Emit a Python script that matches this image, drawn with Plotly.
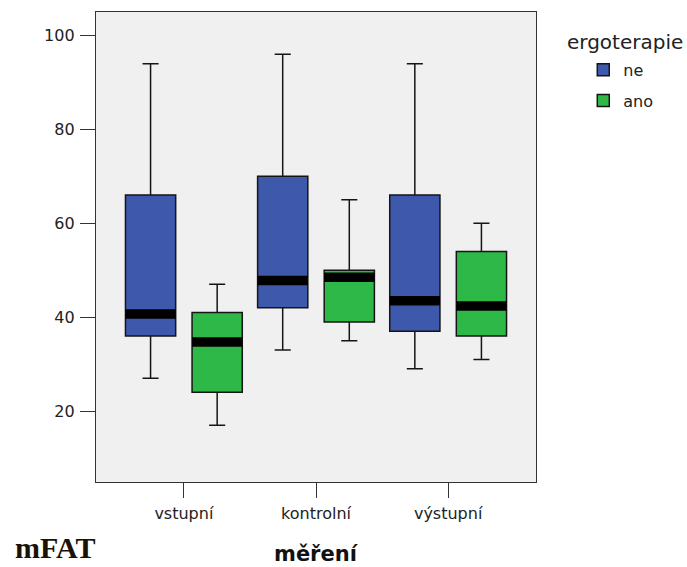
import plotly.graph_objects as go

categories = ["vstupní", "kontrolní", "výstupní"]
groups = ["ne", "ano"]

ne_lower = [27, 33, 29]
ne_q1 = [36, 42, 37]
ne_median = [40.7, 47.8, 43.5]
ne_q3 = [66, 70, 66]
ne_upper = [94, 96, 94]

ano_lower = [17, 35, 31]
ano_q1 = [24, 39, 36]
ano_median = [34.7, 48.5, 42.4]
ano_q3 = [41, 50, 54]
ano_upper = [47, 65, 60]

y_ticks = [20, 40, 60, 80, 100]

colors = {"ne": "#3E58AC", "ano": "#2EB848"}
offsets = {"ne": -0.252, "ano": 0.252}
box_w = 0.38
FONT = "DejaVu Sans"

stats = {
    "ne": (ne_lower, ne_q1, ne_median, ne_q3, ne_upper),
    "ano": (ano_lower, ano_q1, ano_median, ano_q3, ano_upper),
}

fig = go.Figure()
for g in groups:
    lo, q1, med, q3, up = stats[g]
    xs = [i + offsets[g] for i in range(len(categories))]
    fig.add_trace(go.Box(
        name=g, x=xs, q1=q1, median=med, q3=q3,
        lowerfence=lo, upperfence=up,
        width=box_w, whiskerwidth=0.32,
        fillcolor=colors[g],
        line=dict(color="#151515", width=1.5),
        boxpoints=False, legendgroup=g, showlegend=True,
    ))

# thick median bars
for g in groups:
    med = stats[g][2]
    for i, m in enumerate(med):
        c = i + offsets[g]
        fig.add_trace(go.Scatter(
            x=[c - box_w / 2, c + box_w / 2], y=[m, m],
            mode="lines", line=dict(color="black", width=9.5),
            showlegend=False, hoverinfo="skip",
        ))

W, H = 687, 567
L, T = 95.5, 12.3
R = W - 535.7
B = H - 481.7
pw = W - L - R
ph = H - T - B

def px_x(x):
    return (x - L) / pw

def px_y(y):
    return (H - B - y) / ph

fig.update_layout(
    width=W, height=H,
    margin=dict(l=L, r=R, t=T, b=B, autoexpand=False),
    paper_bgcolor="white",
    plot_bgcolor="#f0f0f0",
    boxmode="overlay",
    font=dict(family=FONT, color="#222222", size=16),
    showlegend=True,
    legend=dict(
        x=px_x(583), y=px_y(53), xanchor="left", yanchor="top",
        font=dict(family=FONT, size=16, color="#222222"),
        tracegroupgap=7, bgcolor="rgba(0,0,0,0)",
    ),
    xaxis=dict(
        range=[-0.665, 2.665], automargin=False,
        tickmode="array", tickvals=list(range(len(categories))), ticktext=categories,
        ticks="outside", ticklen=15, tickwidth=1.3, tickcolor="#333333",
        ticklabelstandoff=2,
        showline=True, linecolor="#333333", linewidth=1.3, mirror=True,
        showgrid=False, zeroline=False,
        tickfont=dict(family=FONT, size=16, color="#222222"),
    ),
    yaxis=dict(
        range=[4.9, 105], automargin=False,
        tickmode="array", tickvals=y_ticks,
        ticks="outside", ticklen=15, tickwidth=1.3, tickcolor="#333333",
        ticklabelstandoff=2,
        showline=True, linecolor="#333333", linewidth=1.3, mirror=True,
        showgrid=False, zeroline=False,
        tickfont=dict(family=FONT, size=16, color="#222222"),
    ),
    annotations=[
        dict(text="<b>měření</b>", xref="paper", yref="paper",
             x=0.5, y=px_y(554), xanchor="center", yanchor="middle",
             showarrow=False, font=dict(family=FONT, size=21, color="#111111")),
        dict(text="ergoterapie", xref="paper", yref="paper",
             x=px_x(565), y=px_y(42), xanchor="left", yanchor="middle",
             showarrow=False, font=dict(family=FONT, size=20, color="#222222")),
        dict(text="<b>mFAT</b>", xref="paper", yref="paper",
             x=px_x(55), y=px_y(547.5), xanchor="center", yanchor="middle",
             showarrow=False, font=dict(family="Liberation Serif", size=30, color="#1a1208")),
    ],
)

fig.write_html(
    "out.html",
    config={"displayModeBar": False},
    post_script="document.body.style.margin='0';document.body.style.overflow='hidden';",
)
